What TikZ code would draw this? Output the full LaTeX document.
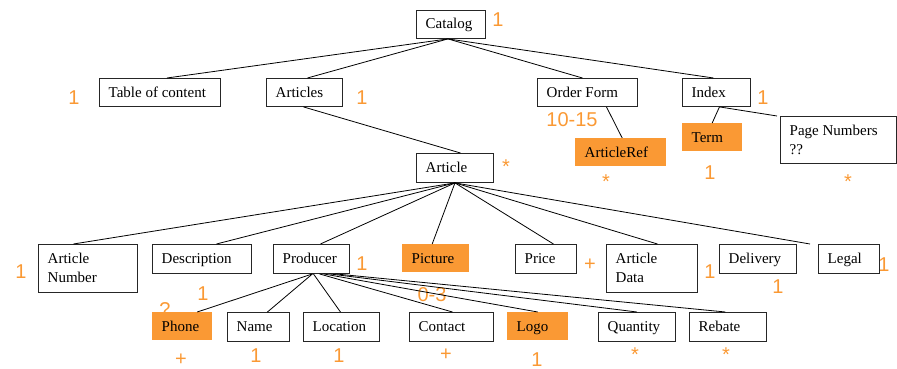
\documentclass[tikz,border=0pt]{standalone}
\usepackage{fontspec}
\setmainfont{Liberation Serif}
\newfontfamily\labfont{Liberation Sans}
\definecolor{org}{RGB}{250,153,52}
\newcommand\twol[2]{\vtop{\hbox{#1}\hbox{#2}}}
\newcommand\bx[7]{%
  \node[#6, anchor=north west, inner sep=0pt, minimum width={#4-#2}, minimum height={#5-#3}] (#1) at (#2,#3) {};
  \node[anchor=base west, inner sep=0pt, font=\txtfont] (#1t) at ({#2+9.5},{#3+19}) {#7};}
\newcommand\txtfont{\fontsize{15}{19}\selectfont}
\begin{document}
\begin{tikzpicture}[x=1pt,y=-1pt,
  wbox/.style={draw=black!85, line width=0.9pt},
  obox/.style={fill=org, draw=none},
  con/.style={draw=black, line width=0.8pt},
  lab/.style={text=org, font=\labfont\fontsize{20}{24}\selectfont, inner sep=0pt, anchor=base}]
\useasboundingbox (0,0) rectangle (897,369);
% labels
\node[lab] (l1) at (498,27) {1};
\node[lab] (l2) at (74,104) {1};
\node[lab] (l3) at (362,104) {1};
\node[lab] (l4) at (572,126) {10-15};
\node[lab] (l5) at (763,104) {1};
\node[lab] (l6) at (606,188.5) {*};
\node[lab] (l7) at (710,179) {1};
\node[lab] (l8) at (848,188.5) {*};
\node[lab] (l9) at (506,173.5) {*};
\node[lab] (l10) at (21,278) {1};
\node[lab] (l11) at (362,270) {1};
\node[lab] (l12) at (203,300) {1};
\node[lab] (l13) at (165,316) {?};
\node[lab] (l14) at (181,365) {+};
\node[lab] (l15) at (256,362) {1};
\node[lab] (l16) at (339,362) {1};
\node[lab] (l17) at (446,360) {+};
\node[lab] (l18) at (432,301) {0-3};
\node[lab] (l19) at (537,366) {1};
\node[lab] (l20) at (635,361.5) {*};
\node[lab] (l21) at (726,361.5) {*};
\node[lab] (l22) at (590,270) {+};
\node[lab] (l23) at (710,278) {1};
\node[lab] (l24) at (778,293) {1};
\node[lab] (l25) at (884,271) {1};
% boxes
\bx{cat}{416}{10}{485}{38}{wbox}{Catalog}
\bx{toc}{99}{78}{220}{106}{wbox}{Table of content}
\bx{arts}{266}{78}{342}{106}{wbox}{Articles}
\bx{ord}{537}{78}{637}{106}{wbox}{Order Form}
\bx{idx}{682}{78}{750}{106}{wbox}{Index}
\bx{aref}{575}{138}{666}{166}{obox}{ArticleRef}
\bx{term}{682}{123}{742}{151}{obox}{Term}
\bx{pnum}{780}{116}{896}{163}{wbox}{\twol{Page Numbers}{??}}
\bx{art}{416}{153}{493}{182}{wbox}{Article}
\bx{anum}{38}{244}{137}{292}{wbox}{\twol{Article}{Number}}
\bx{desc}{152}{244}{251}{273}{wbox}{Description}
\bx{prod}{273}{244}{349}{273}{wbox}{Producer}
\bx{pic}{402}{244}{469}{272}{obox}{Picture}
\bx{price}{515}{244}{576}{273}{wbox}{Price}
\bx{adata}{606}{244}{697}{292}{wbox}{\twol{Article}{Data}}
\bx{deliv}{719}{244}{796}{273}{wbox}{Delivery}
\bx{legal}{818}{244}{879}{273}{wbox}{Legal}
\bx{phone}{152}{312}{212}{340}{obox}{Phone}
\bx{name}{227}{312}{289}{341}{wbox}{Name}
\bx{loc}{303}{312}{379}{341}{wbox}{Location}
\bx{cont}{409}{312}{493}{341}{wbox}{Contact}
\bx{logo}{507}{312}{568}{340}{obox}{Logo}
\bx{qty}{598}{312}{675}{341}{wbox}{Quantity}
\bx{reb}{689}{312}{766}{341}{wbox}{Rebate}
% connectors
\draw[con] ([xshift=-3pt]cat.south) -- ([xshift=7pt]toc.north);
\draw[con] ([xshift=-3pt]cat.south) -- ([xshift=3pt]arts.north);
\draw[con] ([xshift=-3pt]cat.south) -- ([xshift=-5pt]ord.north);
\draw[con] ([xshift=-3pt]cat.south) -- ([xshift=-3pt]idx.north);
\draw[con] ([xshift=-1pt]arts.south) -- ([xshift=5.5pt]art.north);
\draw[con] ([xshift=19pt]ord.south) -- ([xshift=1.5pt]aref.north);
\draw[con] ([xshift=3pt]idx.south) -- (term.north);
\draw[con] ([xshift=3pt]idx.south) -- ([xshift=-3pt]pnum.north west);
\draw[con] (art.south) -- ([xshift=-14.5pt]anum.north);
\draw[con] (art.south) -- ([xshift=14.5pt]desc.north);
\draw[con] (art.south) -- ([xshift=9pt]prod.north);
\draw[con] (art.south) -- ([xshift=-3.5pt]pic.north);
\draw[con] (art.south) -- ([xshift=7.5pt]price.north);
\draw[con] (art.south) -- ([xshift=5.5pt]adata.north);
\draw[con] (art.south) -- ([xshift=-8pt]legal.north west);
\draw[con] ([xshift=1pt]prod.south) -- ([xshift=15pt]phone.north);
\draw[con] ([xshift=1pt]prod.south) -- ([xshift=9pt]name.north);
\draw[con] ([xshift=2pt]prod.south) -- ([xshift=-1pt]loc.north);
\draw[con] ([xshift=8pt]prod.south) -- ([xshift=1pt]cont.north);
\draw[con] ([xshift=12pt]prod.south) -- (logo.north);
\draw[con] ([xshift=18pt]prod.south) -- (qty.north);
\draw[con] ([xshift=24pt]prod.south) -- ([xshift=-2.5pt]reb.north);
\end{tikzpicture}
\end{document}
